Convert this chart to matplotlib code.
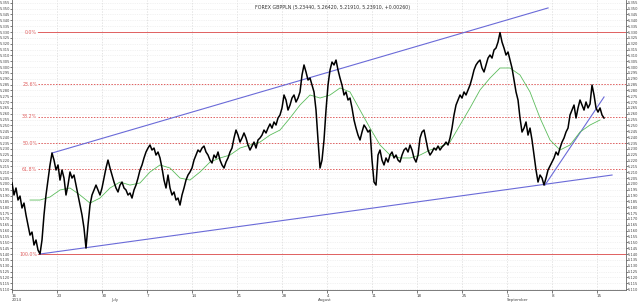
import matplotlib
matplotlib.use('Agg')
import matplotlib.pyplot as plt
import matplotlib.transforms as mtransforms
import numpy as np

title = 'FOREX GBPPLN (5.23440, 5.26420, 5.21910, 5.23910, +0.00260)'

# price samples, 4.5 samples per trading day, starting Mon 16 June 2014
prices = [
    5.2008, 5.1905, 5.1965, 5.1862, 5.1896, 5.1794, 5.1836, 5.1734, 5.1648, 5.1562,
    5.1588, 5.1477, 5.1520, 5.1434, 5.1400, 5.1520, 5.1734, 5.1905, 5.2033, 5.2162,
    5.2264, 5.2204, 5.2119, 5.2162, 5.2033, 5.2119, 5.2050, 5.1905, 5.1990, 5.2102,
    5.2050, 5.2076, 5.1990, 5.1905, 5.1819, 5.1734, 5.1622, 5.1451, 5.1648, 5.1819,
    5.1905, 5.1948, 5.1990, 5.1948, 5.1905, 5.1965, 5.2050, 5.2136, 5.2204, 5.2136,
    5.2076, 5.2016, 5.1965, 5.1931, 5.1990, 5.2016, 5.1965, 5.1948, 5.1905, 5.1922,
    5.1879, 5.1948, 5.1990, 5.2050, 5.2119, 5.2162, 5.2222, 5.2273, 5.2307, 5.2333,
    5.2290, 5.2307, 5.2247, 5.2273, 5.2222, 5.2136, 5.2033, 5.1965, 5.2076, 5.1965,
    5.1905, 5.1931, 5.1862, 5.1879, 5.1819, 5.1905, 5.1965, 5.2033, 5.2076, 5.2102,
    5.2136, 5.2204, 5.2247, 5.2290, 5.2273, 5.2307, 5.2324, 5.2273, 5.2247, 5.2204,
    5.2179, 5.2247, 5.2222, 5.2273, 5.2204, 5.2162, 5.2136, 5.2187, 5.2222, 5.2273,
    5.2307, 5.2393, 5.2461, 5.2418, 5.2358, 5.2393, 5.2436, 5.2393, 5.2333, 5.2290,
    5.2324, 5.2358, 5.2307, 5.2376, 5.2393, 5.2418, 5.2461, 5.2436, 5.2478, 5.2513,
    5.2478, 5.2530, 5.2504, 5.2564, 5.2590, 5.2650, 5.2761, 5.2718, 5.2632, 5.2675,
    5.2735, 5.2761, 5.2701, 5.2735, 5.2787, 5.2932, 5.3018, 5.2958, 5.2889, 5.2906,
    5.2846, 5.2787, 5.2632, 5.2376, 5.2136, 5.2204, 5.2376, 5.2632, 5.2846, 5.2975,
    5.3043, 5.3018, 5.3060, 5.2975, 5.2906, 5.2846, 5.2761, 5.2787, 5.2718, 5.2735,
    5.2650, 5.2547, 5.2478, 5.2418, 5.2376, 5.2444, 5.2504, 5.2478, 5.2444, 5.2461,
    5.2204, 5.2016, 5.1990, 5.2247, 5.2290, 5.2204, 5.2162, 5.2222, 5.2187, 5.2247,
    5.2273, 5.2222, 5.2247, 5.2204, 5.2187, 5.2247, 5.2290, 5.2307, 5.2273, 5.2333,
    5.2290, 5.2222, 5.2187, 5.2247, 5.2393, 5.2444, 5.2461, 5.2376, 5.2290, 5.2247,
    5.2273, 5.2307, 5.2290, 5.2324, 5.2290, 5.2316, 5.2333, 5.2358, 5.2333, 5.2393,
    5.2478, 5.2590, 5.2675, 5.2718, 5.2761, 5.2735, 5.2787, 5.2761, 5.2804, 5.2846,
    5.2906, 5.2975, 5.3018, 5.3043, 5.3060, 5.2992, 5.2958, 5.3018, 5.3077, 5.3103,
    5.3077, 5.3146, 5.3163, 5.3214, 5.3295, 5.3214, 5.3163, 5.3103, 5.3129, 5.3060,
    5.2992, 5.2889, 5.2787, 5.2718, 5.2564, 5.2444, 5.2478, 5.2530, 5.2418, 5.2478,
    5.2376, 5.2247, 5.2119, 5.2016, 5.2076, 5.2050, 5.1990, 5.2050, 5.2119, 5.2153,
    5.2187, 5.2222, 5.2273, 5.2247, 5.2307, 5.2358, 5.2393, 5.2444, 5.2478, 5.2590,
    5.2632, 5.2675, 5.2564, 5.2650, 5.2718, 5.2675, 5.2632, 5.2701, 5.2650, 5.2684,
    5.2846, 5.2761, 5.2650, 5.2615, 5.2650, 5.2590, 5.2564,
]
samples_per_day = 4.5

# moving average, read at every 5th price sample from sample 9 on
moving_avg = [
    5.1862, 5.1862, 5.1888, 5.1948, 5.1965, 5.1905, 5.1836, 5.1879, 5.1965, 5.2016,
    5.1990, 5.2008, 5.2102, 5.2162, 5.2136, 5.2050, 5.2033, 5.2102, 5.2187, 5.2222,
    5.2247, 5.2307, 5.2333, 5.2358, 5.2418, 5.2461, 5.2564, 5.2675, 5.2761, 5.2735,
    5.2761, 5.2821, 5.2787, 5.2632, 5.2478, 5.2333, 5.2247, 5.2222, 5.2222, 5.2247,
    5.2290, 5.2316, 5.2358, 5.2504, 5.2650, 5.2804, 5.2906, 5.2992, 5.2992, 5.2932,
    5.2787, 5.2564, 5.2376, 5.2290, 5.2333, 5.2444, 5.2504, 5.2547,
]

# trend lines: (trading day, price) start and end
upper_channel = [(4.44, 5.2264), (59.56, 5.3506)]
lower_channel = [(3.11, 5.1400), (66.67, 5.2076)]
short_trend = [(59.22, 5.1990), (65.78, 5.2744)]

fib_high = 5.330
fib_low = 5.140
fib_ratios = [0.0, 0.236, 0.382, 0.5, 0.618, 1.0]
fib_labels = ['0.0%', '23.6%', '38.2%', '50.0%', '61.8%', '100.0%']

week_days = [0, 5, 10, 15, 20, 25, 30, 35, 40, 45, 50, 55, 60, 65]
week_labels = ['16', '23', '30', '7', '14', '21', '28', '4', '11', '18', '25', '1', '8', '15']
month_days = [0, 11, 34, 55]
month_labels = ['2014', 'July', 'August', 'September']

t = np.arange(len(prices)) / samples_per_day
t_ma = t[9::5][:len(moving_avg)]

fig = plt.figure(figsize=(6.4, 3.02), dpi=100)
ax = fig.add_axes([12 / 640, 12 / 302, 614 / 640, 290 / 302])

grid_col = '#d8d8d8'
for d in week_days:
    ax.axvline(d, color=grid_col, lw=0.5, ls=(0, (2, 2)), zorder=0)
for lv in np.arange(5.110, 5.3551, 0.005):
    ax.axhline(lv, color='#e6e6e6', lw=0.4, ls=(0, (2, 2)), zorder=0)

red = '#e06060'
for r, lab in zip(fib_ratios, fib_labels):
    lv = fib_high - r * (fib_high - fib_low)
    ls = '-' if r in (0.0, 1.0) else (0, (1.5, 1.5))
    ax.plot([2.9, 68.3], [lv, lv], color=red, lw=0.7, ls=ls, zorder=1)
    ax.text(2.8, lv, lab, color=red, fontsize=3.4, ha='right', va='center')

blue = '#6a6ad8'
for ln in (upper_channel, lower_channel, short_trend):
    ax.plot([p[0] for p in ln], [p[1] for p in ln], color=blue, lw=0.8, zorder=2)

ax.plot(t_ma, moving_avg, color='#5cbc5c', lw=0.6, zorder=3)
ax.plot(t, prices, color='black', lw=1.1, zorder=4)

ax.set_xlim(0, 68.22)
ax.set_ylim(5.1092, 5.3574)

yt = np.arange(5.110, 5.3551, 0.005)
ax.set_yticks(yt)
ax.set_yticklabels(['%.3f' % v for v in yt])
ax.tick_params(axis='y', which='both', left=True, right=True, labelleft=True,
               labelright=True, labelsize=2.6, length=1.2, width=0.5, pad=0.4,
               colors='#444444')
ax.set_xticks(week_days)
ax.set_xticklabels(week_labels)
for lbl in ax.get_xticklabels():
    lbl.set_horizontalalignment('left')
ax.tick_params(axis='x', labelsize=3.0, length=2.5, width=0.5, pad=0.2,
               colors='#444444')

trans = mtransforms.blended_transform_factory(ax.transData, fig.transFigure)
for d, lab in zip(month_days, month_labels):
    ax.text(d, 0.0, lab, transform=trans, fontsize=2.8, ha='left', va='bottom',
            color='#444444')

for s in ax.spines.values():
    s.set_color('#666666')
    s.set_linewidth(0.6)
ax.spines['top'].set_visible(False)

fig.text(0.52, 0.985, title, fontsize=3.4, ha='center', va='top', color='#333333')

fig.savefig('out.png', dpi=100)
